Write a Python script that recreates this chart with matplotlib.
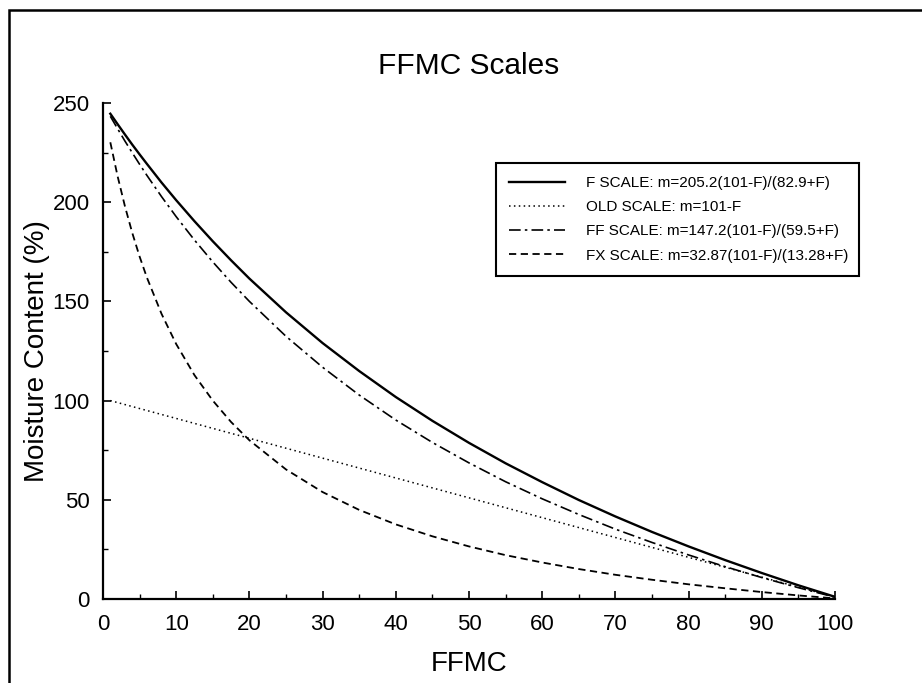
import matplotlib
matplotlib.use('Agg')
import matplotlib.pyplot as plt
from matplotlib.patches import Rectangle
from matplotlib.ticker import MultipleLocator

plt.rcParams['font.family'] = ['Liberation Sans', 'DejaVu Sans']

# FFMC values
ffmc = [1, 2, 3, 4, 5, 6, 8, 10, 12.5, 15, 17.5, 20, 25, 30, 35, 40, 45, 50,
        55, 60, 65, 70, 75, 80, 85, 90, 95, 100]
f_scale = [244.6, 239.3, 234.1, 229.0, 224.1, 219.3, 209.9, 201.0, 190.4, 180.3,
           170.7, 161.5, 144.5, 129.0, 114.9, 101.8, 89.8, 78.7, 68.4, 58.9,
           49.9, 41.6, 33.8, 26.5, 19.6, 13.1, 6.9, 1.1]
old_scale = [100, 99, 98, 97, 96, 95, 93, 91, 88.5, 86, 83.5, 81, 76, 71, 66, 61,
             56, 51, 46, 41, 36, 31, 26, 21, 16, 11, 6, 1]
ff_scale = [243.3, 237.0, 230.8, 224.9, 219.1, 213.5, 202.8, 192.7, 180.9, 169.9,
            159.6, 150.0, 132.4, 116.8, 102.8, 90.2, 78.9, 68.6, 59.1, 50.5,
            42.6, 35.2, 28.5, 22.2, 16.3, 10.8, 5.7, 0.9]
fx_scale = [230.2, 213.0, 197.9, 184.5, 172.6, 162.0, 143.7, 128.5, 112.8, 100.0,
            89.2, 80.0, 65.3, 53.9, 44.9, 37.6, 31.6, 26.5, 22.1, 18.4, 15.1,
            12.2, 9.7, 7.4, 5.4, 3.5, 1.8, 0.3]

labels = ['F SCALE: m=205.2(101-F)/(82.9+F)',
          'OLD SCALE: m=101-F',
          'FF SCALE: m=147.2(101-F)/(59.5+F)',
          'FX SCALE: m=32.87(101-F)/(13.28+F)']

fig = plt.figure(figsize=(9.22, 6.83), dpi=100)
ax = fig.add_axes([103/922, 1 - 599/683, 732/922, 496/683])

# page frame from the scan
fig.patches.append(Rectangle((9/922, -0.1), 1.2, 1.1 - 10/683, transform=fig.transFigure,
                             fill=False, edgecolor='black', linewidth=1.8))

ax.plot(ffmc, f_scale, color='black', linewidth=1.7, linestyle='-', label=labels[0])
ax.plot(ffmc, old_scale, color='black', linewidth=1.1, linestyle=(0, (1, 2.2)), label=labels[1])
ax.plot(ffmc, ff_scale, color='black', linewidth=1.2, linestyle=(0, (7, 2.5, 1.5, 2.5)), label=labels[2])
ax.plot(ffmc, fx_scale, color='black', linewidth=1.3, linestyle=(0, (4, 2.5)), label=labels[3])

ax.set_xlim(0, 100)
ax.set_ylim(0, 250)
ax.xaxis.set_major_locator(MultipleLocator(10))
ax.xaxis.set_minor_locator(MultipleLocator(5))
ax.yaxis.set_major_locator(MultipleLocator(50))
ax.yaxis.set_minor_locator(MultipleLocator(25))
ax.spines['top'].set_visible(False)
ax.spines['right'].set_visible(False)
ax.spines['left'].set_linewidth(1.6)
ax.spines['bottom'].set_linewidth(1.6)
ax.tick_params(which='major', direction='in', length=6, width=1.2, labelsize=16)
ax.tick_params(which='minor', direction='in', length=3.5, width=1.0)
ax.tick_params(axis='x', which='major', pad=11)
ax.tick_params(axis='y', which='major', pad=9.5)

ax.set_title('FFMC Scales', fontsize=21.5, pad=21)
ax.set_xlabel('FFMC', fontsize=20, labelpad=11)
ax.set_ylabel('Moisture Content (%)', fontsize=20, labelpad=1.5)

leg = ax.legend(loc='upper left', bbox_to_anchor=(496/922, 1 - 273/683, 363/922, 110/683),
                bbox_transform=fig.transFigure, mode='expand', borderaxespad=0,
                fontsize=11, handlelength=3.66, handletextpad=1.4, borderpad=0.85,
                labelspacing=0.67, fancybox=False, framealpha=1)
leg.get_frame().set_edgecolor('black')
leg.get_frame().set_linewidth(1.5)

fig.savefig('out.png', dpi=100)
